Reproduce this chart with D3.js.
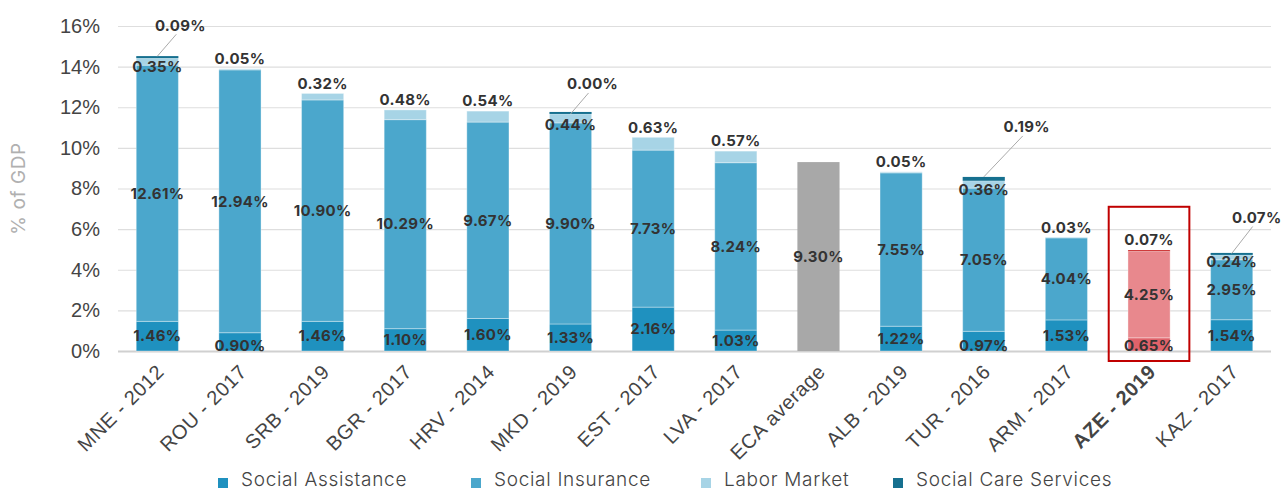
<!DOCTYPE html>
<html>
<head>
<meta charset="utf-8">
<script src="https://cdn.jsdelivr.net/npm/d3@7"></script>
<style>
  body { margin: 0; background: #fff; }
  svg { font-family: Inter, 'Noto Sans', sans-serif; }
</style>
</head>
<body>
<svg width="1284" height="491"></svg>
<script>
const categories = ['MNE - 2012', 'ROU - 2017', 'SRB - 2019', 'BGR - 2017', 'HRV - 2014', 'MKD - 2019', 'EST - 2017',
  'LVA - 2017', 'ECA average', 'ALB - 2019', 'TUR - 2016', 'ARM - 2017', 'AZE - 2019', 'KAZ - 2017'];
const socialAssistance = [1.46, 0.90, 1.46, 1.10, 1.60, 1.33, 2.16, 1.03, null, 1.22, 0.97, 1.53, 0.65, 1.54];
const socialInsurance = [12.61, 12.94, 10.90, 10.29, 9.67, 9.90, 7.73, 8.24, null, 7.55, 7.05, 4.04, 4.25, 2.95];
const laborMarket = [0.35, 0.05, 0.32, 0.48, 0.54, 0.44, 0.63, 0.57, null, 0.05, 0.36, 0.03, 0.07, 0.24];
const socialCare = [0.09, null, null, null, null, 0.00, null, null, null, null, 0.19, null, null, 0.07];
const ecaAverage = 9.30;
const highlight = 'AZE - 2019';
const yTicks = [0, 2, 4, 6, 8, 10, 12, 14, 16];

const seriesNames = ['Social Assistance', 'Social Insurance', 'Labor Market', 'Social Care Services'];
const colors = ['#1f91bf', '#4ba7cc', '#a7d4e6', '#16708f'];
const redColors = ['#e0626a', '#e8888d', '#e8888d', '#c00000'];

// label offsets for the small social care values (moved out with a leader line)
const leaderOffsets = { 'MNE - 2012': [23, -31], 'MKD - 2019': [22, -30], 'TUR - 2016': [43, -50], 'KAZ - 2017': [25, -36] };

const svg = d3.select('svg');
const MARGIN = { TOP: 26, RIGHT: 11, BOTTOM: 140, LEFT: 116 };
const WIDTH = +svg.attr('width') - MARGIN.LEFT - MARGIN.RIGHT;
const HEIGHT = +svg.attr('height') - MARGIN.TOP - MARGIN.BOTTOM;

const g = svg.append('g').attr('transform', `translate(${MARGIN.LEFT}, ${MARGIN.TOP})`);

const x = d3.scaleBand().domain(categories).range([0, WIDTH]).paddingInner(0.49).paddingOuter(0.245);
const y = d3.scaleLinear().domain([0, 16]).range([HEIGHT, 0]);

// grid + y axis
g.append('g')
  .call(d3.axisLeft(y).tickValues(yTicks).tickSize(-WIDTH + 4).tickFormat(d => d + '%'))
  .call(a => a.select('.domain').remove())
  .call(a => a.selectAll('.tick line').attr('stroke', d => d === 0 ? '#d0d0d0' : '#dedede').attr('stroke-width', d => d === 0 ? 2 : 1.2).attr('transform', 'translate(2,0)'))
  .call(a => a.selectAll('.tick text').attr('x', -16).attr('fill', '#444').style('font-size', '20px').style('font-weight', 300));

g.append('text')
  .attr('transform', `translate(${-91}, ${y(8)}) rotate(-90)`)
  .attr('text-anchor', 'middle')
  .attr('fill', '#b0b0b0')
  .style('font-size', '19px')
  .style('letter-spacing', '0.6px')
  .text('% of GDP');

// build stacked rows
const rows = categories.map((c, i) => ({
  cat: c,
  vals: [socialAssistance[i], socialInsurance[i], laborMarket[i], socialCare[i]]
}));

const labelStyle = sel => sel.attr('fill', '#333').attr('text-anchor', 'middle')
  .style('font-size', '15px').style('font-weight', 700).style('letter-spacing', '0.3px');

rows.forEach(r => {
  const cx = x(r.cat) + x.bandwidth() / 2;
  if (r.cat === 'ECA average') {
    g.append('rect').attr('x', x(r.cat)).attr('width', x.bandwidth())
      .attr('y', y(ecaAverage)).attr('height', y(0) - y(ecaAverage)).attr('fill', '#a8a8a8');
    g.append('text').call(labelStyle).attr('x', cx).attr('y', y(ecaAverage / 2)).attr('dy', '0.35em')
      .text(ecaAverage.toFixed(2) + '%');
    return;
  }
  const pal = r.cat === highlight ? redColors : colors;
  let base = 0;
  const segs = [];
  r.vals.forEach((v, k) => {
    if (v === null) return;
    const top = base + v;
    const h = Math.max(y(base) - y(top), k === 3 ? 2 : 0);
    g.append('rect')
      .attr('x', x(r.cat)).attr('width', x.bandwidth())
      .attr('y', y(base) - h).attr('height', h)
      .attr('fill', r.cat === highlight && k === 2 ? redColors[3] : pal[k])
      .attr('stroke', k < 3 ? 'rgba(255,255,255,0.35)' : 'none').attr('stroke-width', 1);
    segs.push({ k, v, base, top });
    base = top;
  });
  const total = base;
  const hasCare = r.vals[3] !== null;
  segs.forEach(s => {
    const t = g.append('text').call(labelStyle).attr('x', cx).text(s.v.toFixed(2) + '%');
    if (s.k < 2) {
      t.attr('y', y((s.base + s.top) / 2)).attr('dy', '0.35em');
      if (s.k === 0 && s.v < 1) t.attr('y', y(s.base) - 5);
    } else if (s.k === 2) {
      if (hasCare) t.attr('y', y(s.base) + 2).attr('dy', '0.35em');
      else t.attr('y', y(total) - 10).attr('dy', '0.35em');
    } else {
      const off = leaderOffsets[r.cat];
      const lx = cx + off[0], ly = y(total) + off[1];
      g.append('line').attr('x1', cx).attr('y1', y(total))
        .attr('x2', lx - 4).attr('y2', ly + 9)
        .attr('stroke', '#aaa').attr('stroke-width', 1);
      t.attr('x', lx).attr('y', ly).attr('dy', '0.35em');
    }
  });
});

// highlight box
g.append('rect')
  .attr('x', x(highlight) - x.step() * 0.245 + 1).attr('width', x.step() - 2)
  .attr('y', y(7.1)).attr('height', y(0) - y(7.1) + 10)
  .attr('fill', 'none').attr('stroke', '#c00000').attr('stroke-width', 2);

// x axis labels
g.append('g')
  .attr('transform', `translate(0, ${HEIGHT})`)
  .call(d3.axisBottom(x).tickSize(0))
  .call(a => a.select('.domain').remove())
  .call(a => a.selectAll('.tick text')
    .attr('text-anchor', 'end')
    .attr('transform', 'translate(1, 15) rotate(-45)')
    .attr('dy', '0.35em')
    .attr('fill', '#444')
    .style('font-size', '20px')
    .style('letter-spacing', '0.6px')
    .style('font-weight', d => d === highlight ? 700 : 300));

// legend
const legendX = [218, 471, 701, 893];
const legend = svg.append('g').attr('transform', 'translate(0, 479)');
seriesNames.forEach((name, i) => {
  const item = legend.append('g').attr('transform', `translate(${legendX[i]}, 0)`);
  item.append('rect').attr('x', 0).attr('y', -1).attr('width', 10).attr('height', 10).attr('fill', colors[i]);
  item.append('text').attr('x', 23).attr('dy', '0.35em').attr('fill', '#444')
    .style('font-size', '19px').style('font-weight', 300).style('letter-spacing', '0.7px').text(name);
});
</script>
</body>
</html>
